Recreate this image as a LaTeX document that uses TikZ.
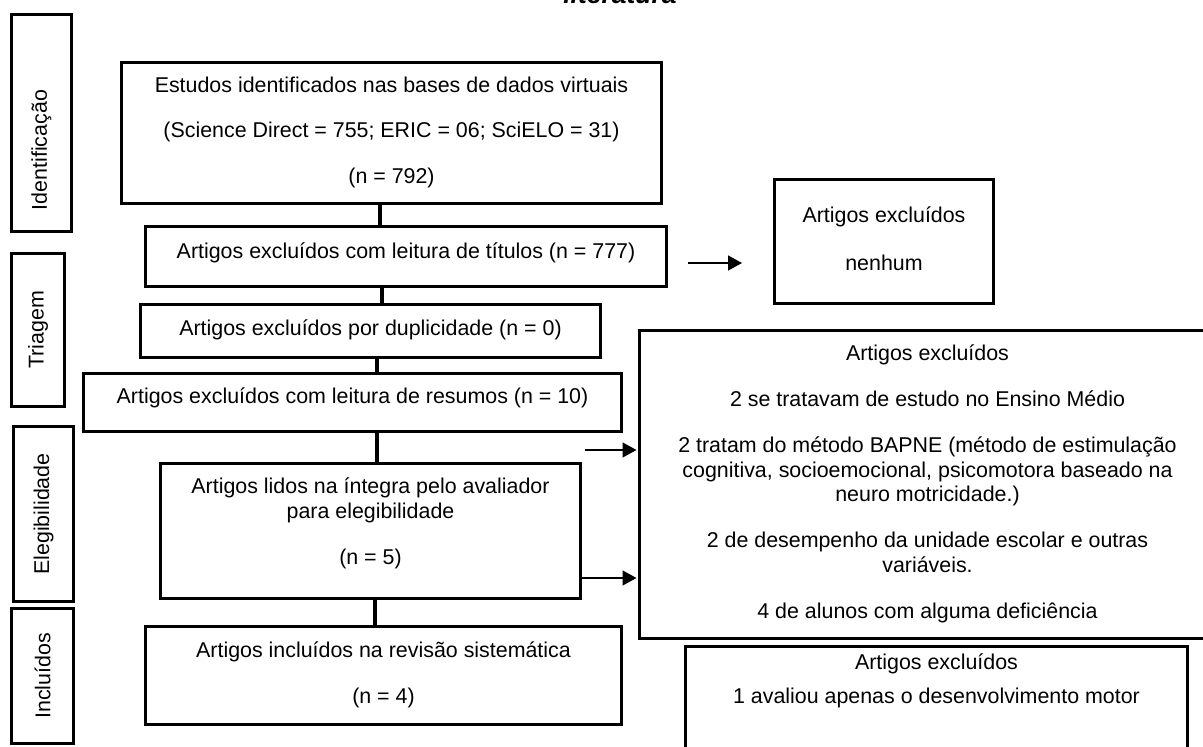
\documentclass[tikz,border=0pt]{standalone}
\usepackage{fontspec}
\setmainfont{Liberation Sans}
\usepackage{graphicx}
\usetikzlibrary{arrows.meta}
\newcommand\mlines[2][0pt]{\raisebox{#1}[\height][\depth]{\begin{tabular}{@{}c@{}}#2\end{tabular}}}
\begin{document}
\begin{tikzpicture}[x=1pt,y=-1pt,
  every node/.style={font=\fontsize{21.4}{24.6}\selectfont},
  box/.style={draw, line width=3pt, inner sep=0pt, anchor=north west, fill=white},
  lbl/.style={draw, line width=3pt, inner sep=0pt, anchor=north west, fill=white},
  conn/.style={line width=3.2pt},
  arr/.style={line width=1.3pt, -{Triangle[length=14pt,width=15pt]}}]
\useasboundingbox (0,0) rectangle (1203,747);
\clip (0,0) rectangle (1203,747);

% title (cut off at top)
\node[font=\fontsize{26.5}{30}\selectfont\bfseries\itshape, anchor=base, inner sep=0pt] (title) at (620,3.5) {literatura};

% phase labels
\node[lbl, minimum width=60pt, minimum height=217pt] (l1) at (10,13) {\rotatebox{90}{Identificação\hspace*{54pt}}};
\node[lbl, minimum width=53pt, minimum height=153pt] (l2) at (10,252) {\rotatebox{90}{Triagem}};
\node[lbl, minimum width=60pt, minimum height=175pt] (l3) at (12,425) {\rotatebox{90}{Elegibilidade}};
\node[lbl, minimum width=62pt, minimum height=135pt] (l4) at (10,607) {\rotatebox{90}{Incluídos}};

% main flow
\node[box, minimum width=540pt, minimum height=141pt] (b1) at (120,61)
  {\mlines{Estudos identificados nas bases de dados virtuais\\[21pt]
   (Science Direct = 755; ERIC = 06; SciELO = 31)\\[21pt] (n = 792)}};
\node[box, minimum width=521pt, minimum height=60pt] (b2) at (144,225)
  {\mlines[3pt]{Artigos excluídos com leitura de títulos (n = 777)}};
\node[box, minimum width=460pt, minimum height=53pt] (b3) at (139,303)
  {\mlines{Artigos excluídos por duplicidade (n = 0)}};
\node[box, minimum width=538pt, minimum height=58pt] (b4) at (82,372)
  {\mlines[4pt]{Artigos excluídos com leitura de resumos (n = 10)}};
\node[box, minimum width=420pt, minimum height=135pt] (b5) at (159,462)
  {\mlines[7pt]{Artigos lidos na íntegra pelo avaliador\\ para elegibilidade\\[21pt] (n = 5)}};
\node[box, minimum width=476pt, minimum height=98pt] (b6) at (144,625)
  {\mlines{Artigos incluídos na revisão sistemática\\[21pt] (n = 4)}};

% exclusion boxes
\node[box, minimum width=219pt, minimum height=124pt] (nen) at (773,178)
  {\mlines{Artigos excluídos\\[23pt] nenhum}};
\node[box, minimum width=576pt, minimum height=308pt] (big) at (638,329)
  {\mlines{Artigos excluídos\\[21.5pt]
   2 se tratavam de estudo no Ensino Médio\\[21.5pt]
   2 tratam do método BAPNE (método de estimulação\\
   cognitiva, socioemocional, psicomotora baseado na\\
   neuro motricidade.)\\[21.5pt]
   2 de desempenho da unidade escolar e outras\\
   variáveis.\\[21.5pt]
   4 de alunos com alguma deficiência}};
\node[box, minimum width=502pt, minimum height=130pt] (bot) at (684,645)
  {\mlines[30pt]{Artigos excluídos\\[9pt] 1 avaliou apenas o desenvolvimento motor}};

% connectors
\draw[conn] (b1.south -| 380,0) -- (b2.north -| 380,0);
\draw[conn] (b2.south -| 382,0) -- (b3.north -| 382,0);
\draw[conn] (b3.south -| 377,0) -- (b4.north -| 377,0);
\draw[conn] (b4.south -| 377,0) -- (b5.north -| 377,0);
\draw[conn] (b5.south -| 375,0) -- (b6.north -| 375,0);

% arrows
\draw[arr, shorten <=20pt, shorten >=31pt] (b2.east |- 0,263) -- (nen.west |- 0,263);
\draw[arr, shorten <=3pt, shorten >=1.5pt] (b5.east |- 0,450) -- (big.west |- 0,450);
\draw[arr, shorten >=1.5pt] (b5.east |- 0,578) -- (big.west |- 0,578);
\end{tikzpicture}
\end{document}
